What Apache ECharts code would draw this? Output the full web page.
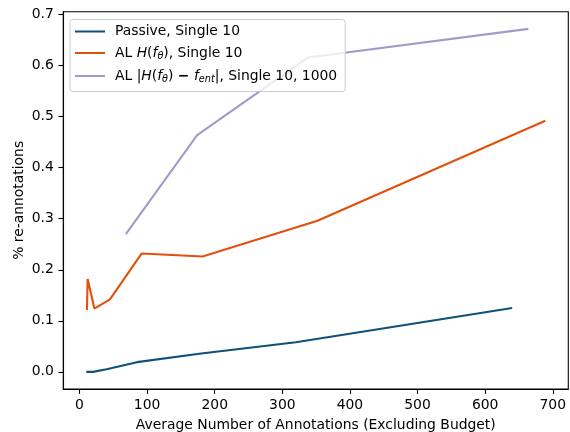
<!DOCTYPE html>
<html>
<head>
<meta charset="utf-8">
<script src="https://cdn.jsdelivr.net/npm/echarts@6/dist/echarts.min.js"></script>
<style>
  html, body { margin: 0; padding: 0; background: #fff; }
  #chart { width: 570px; height: 432px; }
</style>
</head>
<body>
<div id="chart"></div>
<script>
// Re-annotation rate vs. average number of annotations
const passiveX = [10, 20, 40, 85, 180, 320, 640];
const passiveY = [0.0, 0.0, 0.005, 0.019, 0.036, 0.058, 0.125];

const alEntX = [11, 12, 22, 45, 92, 182, 352, 689];
const alEntY = [0.121, 0.182, 0.124, 0.142, 0.232, 0.226, 0.296, 0.492];

const alDiffX = [68.5, 174, 338, 664];
const alDiffY = [0.270, 0.464, 0.616, 0.672];

const xTicks = [0, 100, 200, 300, 400, 500, 600, 700];
const yTicks = [0.0, 0.1, 0.2, 0.3, 0.4, 0.5, 0.6, 0.7];

const seriesNames = [
  'Passive, Single 10',
  'AL H(fθ), Single 10',
  'AL |H(fθ) − fent|, Single 10, 1000'
];
const legendRich = {
  'Passive, Single 10': 'Passive, Single 10',
  'AL H(fθ), Single 10': 'AL {i|H}({i|f}{s|θ}), Single 10',
  'AL |H(fθ) − fent|, Single 10, 1000': 'AL |{i|H}({i|f}{s|θ}) {b|−} {i|f}{s|ent}|, Single 10, 1000'
};

const pairs = (xs, ys) => xs.map((x, k) => [x, ys[k]]);
const font = 'DejaVu Sans, sans-serif';
const fs = 13.9;

const chart = echarts.init(document.getElementById('chart'));
chart.setOption({
  animation: false,
  backgroundColor: '#fff',
  textStyle: { fontFamily: font },
  grid: {
    left: 63.3, right: 1.7, top: 11.7, bottom: 43,
    containLabel: false, outerBoundsMode: 'none',
    show: true, borderColor: '#000', borderWidth: 1.1, backgroundColor: 'transparent'
  },
  xAxis: {
    type: 'value', min: -24, max: 723,
    name: 'Average Number of Annotations (Excluding Budget)',
    nameLocation: 'middle', nameGap: 29, nameMoveOverlap: false,
    nameTextStyle: { fontSize: fs, color: '#000', fontFamily: font },
    splitLine: { show: false },
    axisLine: { show: true, onZero: false, lineStyle: { color: '#000', width: 1.1 } },
    axisTick: { show: true, inside: false, length: 4.9, lineStyle: { color: '#000', width: 1.1 }, customValues: xTicks },
    axisLabel: { color: '#000', fontSize: fs, margin: 9.5, fontFamily: font, customValues: xTicks,
      formatter: v => String(Math.round(v)) }
  },
  yAxis: {
    type: 'value', min: -0.0336, max: 0.7056,
    name: '% re-annotations',
    nameLocation: 'middle', nameGap: 37, nameRotate: 90, nameMoveOverlap: false,
    nameTextStyle: { fontSize: fs, color: '#000', fontFamily: font },
    splitLine: { show: false },
    axisLine: { show: true, onZero: false, lineStyle: { color: '#000', width: 1.1 } },
    axisTick: { show: true, inside: false, length: 4.9, lineStyle: { color: '#000', width: 1.1 }, customValues: yTicks },
    axisLabel: { color: '#000', fontSize: fs, margin: 9.5, fontFamily: font, customValues: yTicks,
      formatter: v => (Math.round(v * 10) / 10).toFixed(1) }
  },
  legend: {
    orient: 'vertical', left: 70, top: 19.5,
    padding: [5, 8, 7, 5],
    itemGap: 7.5,
    itemWidth: 30, itemHeight: 2, icon: 'rect',
    backgroundColor: 'rgba(255,255,255,0.8)',
    borderColor: '#cccccc', borderWidth: 1, borderRadius: 3,
    data: seriesNames,
    formatter: name => legendRich[name],
    textStyle: {
      fontSize: fs, color: '#000', fontFamily: font, padding: [0, 0, 0, 5],
      rich: {
        i: { fontSize: fs, fontStyle: 'italic', color: '#000', fontFamily: font },
        s: { fontSize: 9.7, fontStyle: 'italic', color: '#000', fontFamily: font, padding: [7, 0, 0, 0] },
        b: { fontSize: fs, fontWeight: 'bold', color: '#000', fontFamily: font }
      }
    }
  },
  series: [
    { name: seriesNames[0], type: 'line', data: pairs(passiveX, passiveY), symbol: 'none',
      lineStyle: { color: '#0f507d', width: 2.1 }, itemStyle: { color: '#0f507d' } },
    { name: seriesNames[1], type: 'line', data: pairs(alEntX, alEntY), symbol: 'none',
      lineStyle: { color: '#e1500c', width: 2.1 }, itemStyle: { color: '#e1500c' } },
    { name: seriesNames[2], type: 'line', data: pairs(alDiffX, alDiffY), symbol: 'none',
      lineStyle: { color: '#a09bcb', width: 2.1 }, itemStyle: { color: '#a09bcb' } }
  ]
});
</script>
</body>
</html>
